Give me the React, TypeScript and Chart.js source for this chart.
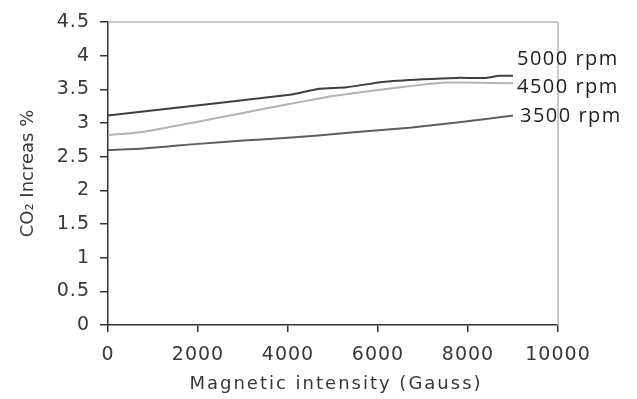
import React, { useEffect, useRef } from 'react';
import { Chart, registerables } from 'chart.js';

Chart.register(...registerables);

// Magnetic intensity (Gauss) and CO2 increase (%) per engine speed
const gauss5000 = [0, 780, 4040, 4700, 5300, 6100, 7000, 7750, 8400, 8700, 9000];
const co2At5000 = [3.11, 3.17, 3.42, 3.51, 3.53, 3.61, 3.65, 3.67, 3.67, 3.7, 3.7];

const gauss4500 = [0, 800, 2000, 3000, 4000, 4500, 5000, 6000, 7000, 7500, 8000, 9000];
const co2At4500 = [2.82, 2.87, 3.02, 3.15, 3.28, 3.34, 3.4, 3.49, 3.57, 3.6, 3.6, 3.59];

const gauss3500 = [0, 800, 2000, 3000, 4000, 4600, 5600, 6700, 7800, 9000];
const co2At3500 = [2.6, 2.62, 2.69, 2.74, 2.78, 2.81, 2.87, 2.93, 3.01, 3.11];

const seriesNames = ['5000 rpm', '4500 rpm', '3500 rpm'];
const seriesColors = ['#3f3f3f', '#b3b3b3', '#5e5e5e'];

const xTicks = [0, 2000, 4000, 6000, 8000, 10000];
const yTicks = [0, 0.5, 1, 1.5, 2, 2.5, 3, 3.5, 4, 4.5];

const xTitle = 'Magnetic intensity (Gauss)';
const yTitle = 'CO\u2082 Increas %';

const AXIS_FONT = '"DejaVu Sans", Verdana, sans-serif';
const LABEL_FONT = '"Open Sans", "Noto Sans", sans-serif';
const TEXT_COLOR = '#383838';

function pts(xs: number[], ys: number[]) {
  return xs.map((x, i) => ({ x, y: ys[i] }));
}

export default function App() {
  const ref = useRef<HTMLCanvasElement | null>(null);

  useEffect(() => {
    if (!ref.current) return;
    const labelOffsets = [
      { dx: 4, dy: -17 },
      { dx: 4, dy: 4 },
      { dx: 7, dy: 1 },
    ];

    const decorPlugin = {
      id: 'decor',
      beforeDraw(chart: any) {
        (chart.ctx as any).letterSpacing = '1px';
      },
      afterDraw(chart: any) {
        const ctx = chart.ctx as any;
        const a = chart.chartArea;
        ctx.save();
        // light frame on top and right
        ctx.strokeStyle = '#b8b8b8';
        ctx.lineWidth = 1.5;
        ctx.beginPath();
        ctx.moveTo(a.left, a.top);
        ctx.lineTo(a.right, a.top);
        ctx.lineTo(a.right, a.bottom);
        ctx.stroke();
        ctx.restore();

        // x axis title
        ctx.save();
        ctx.letterSpacing = '2px';
        ctx.font = `18px ${AXIS_FONT}`;
        ctx.fillStyle = TEXT_COLOR;
        ctx.textAlign = 'center';
        ctx.textBaseline = 'middle';
        ctx.fillText(xTitle, (a.left + a.right) / 2 + 3, 384);
        ctx.restore();

        // y axis title
        ctx.save();
        ctx.letterSpacing = '0px';
        ctx.translate(28, (a.top + a.bottom) / 2);
        ctx.rotate(-Math.PI / 2);
        ctx.font = `18px ${AXIS_FONT}`;
        ctx.fillStyle = TEXT_COLOR;
        ctx.textAlign = 'center';
        ctx.textBaseline = 'middle';
        ctx.fillText(yTitle, 0, 0);
        ctx.restore();

        // series labels at line ends
        ctx.save();
        ctx.letterSpacing = '1.5px';
        ctx.font = `20px ${LABEL_FONT}`;
        ctx.fillStyle = '#1e1e1e';
        ctx.textAlign = 'left';
        ctx.textBaseline = 'middle';
        chart.data.datasets.forEach((ds: any, i: number) => {
          const meta = chart.getDatasetMeta(i);
          const last = meta.data[meta.data.length - 1];
          if (!last) return;
          const off = labelOffsets[i];
          ctx.fillText(ds.label, last.x + off.dx, last.y + off.dy);
        });
        ctx.restore();
        ctx.letterSpacing = '0px';
      },
    };

    const series = [
      pts(gauss5000, co2At5000),
      pts(gauss4500, co2At4500),
      pts(gauss3500, co2At3500),
    ];

    const chart = new Chart(ref.current, {
      type: 'line',
      data: {
        datasets: series.map((d, i) => ({
          label: seriesNames[i],
          data: d,
          borderColor: seriesColors[i],
          borderWidth: 2,
          pointRadius: 0,
          tension: 0.2,
          fill: false,
        })),
      },
      options: {
        animation: false,
        responsive: true,
        maintainAspectRatio: false,
        layout: { padding: { left: 0, top: 22, right: 79, bottom: 0 } },
        plugins: {
          legend: { display: false },
          tooltip: { enabled: false },
          title: { display: false },
        },
        scales: {
          x: {
            type: 'linear',
            min: 0,
            max: 10000,
            afterBuildTicks: (s: any) => {
              s.ticks = xTicks.map((v) => ({ value: v }));
            },
            afterFit: (s: any) => {
              s.height = 74;
              s.paddingLeft = 0;
              s.paddingRight = 0;
              s.paddingTop = 0;
              s.paddingBottom = 0;
            },
            grid: {
              display: true,
              drawOnChartArea: false,
              drawTicks: true,
              tickLength: 7,
              color: '#333',
              lineWidth: 1.5,
            },
            border: { display: true, color: '#333', width: 1.5 },
            ticks: {
              autoSkip: false,
              maxRotation: 0,
              padding: 12,
              color: TEXT_COLOR,
              font: { family: AXIS_FONT, size: 19 },
              callback: (v: any) => String(v),
            },
            title: { display: false, text: xTitle },
          },
          y: {
            type: 'linear',
            min: 0,
            max: 4.5,
            afterBuildTicks: (s: any) => {
              s.ticks = yTicks.map((v) => ({ value: v }));
            },
            afterFit: (s: any) => {
              s.width = 108;
              s.paddingLeft = 0;
              s.paddingRight = 0;
              s.paddingTop = 0;
              s.paddingBottom = 0;
            },
            grid: {
              display: true,
              drawOnChartArea: false,
              drawTicks: true,
              tickLength: 8,
              color: '#333',
              lineWidth: 1.5,
            },
            border: { display: true, color: '#333', width: 1.5 },
            ticks: {
              autoSkip: false,
              padding: 10,
              color: TEXT_COLOR,
              font: { family: AXIS_FONT, size: 19 },
              callback: (v: any) => String(v),
            },
          },
        },
      },
      plugins: [decorPlugin],
    });

    return () => chart.destroy();
  }, []);

  return (
    <div
      style={{
        position: 'absolute',
        left: 0,
        top: 0,
        width: 637,
        height: 399,
        background: '#ffffff',
      }}
    >
      <canvas ref={ref} />
    </div>
  );
}
